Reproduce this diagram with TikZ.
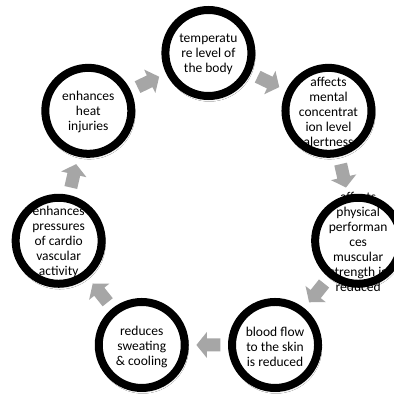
\documentclass[tikz,border=0pt]{standalone}
\usepackage{fontspec}
\setmainfont{Carlito}
\usetikzlibrary{calc,shadows.blur}
\definecolor{arrowgray}{RGB}{166,166,166}
\tikzset{
  disc/.style={circle, minimum size=86pt, inner sep=0pt, fill=white,
    blur shadow={shadow xshift=1pt, shadow yshift=-2.5pt, shadow blur radius=3pt, shadow opacity=30}},
  ringline/.style={circle, minimum size=86pt, inner sep=0pt, draw=black, line width=8pt},
  txt/.style={align=center, font=\fontsize{13.5}{15}\selectfont, text=black, inner sep=0pt, yshift=-1.5pt},
  blockarrow/.pic={\fill[arrowgray] (-12,-6.5) -- (1.5,-6.5) -- (1.5,-13) -- (12,0) -- (1.5,13) -- (1.5,6.5) -- (-12,6.5) -- cycle;}
}
\begin{document}
\begin{tikzpicture}[x=1pt,y=1pt]
\useasboundingbox (-208.4,-187.4) rectangle (185.6,206.6);
\fill[white] (-208.4,-187.4) rectangle (185.6,206.6);
% discs
\node[disc] (c1) at (90:153.6) {};
\node[disc] (c2) at (38.571:153.6) {};
\node[disc] (c3) at (-12.857:153.6) {};
\node[disc] (c4) at (-64.286:153.6) {};
\node[disc] (c5) at (-115.714:153.6) {};
\node[disc] (c6) at (-167.143:153.6) {};
\node[disc] (c7) at (141.429:153.6) {};
% arrows
\pic[rotate=-25.714] at ($(c1)!0.5!(c2)$) {blockarrow};
\pic[rotate=-77.143] at ($(c2)!0.5!(c3)$) {blockarrow};
\pic[rotate=-128.571] at ($(c3)!0.5!(c4)$) {blockarrow};
\pic[rotate=180] at ($(c4)!0.5!(c5)$) {blockarrow};
\pic[rotate=128.571] at ($(c5)!0.5!(c6)$) {blockarrow};
\pic[rotate=77.143] at ($(c6)!0.5!(c7)$) {blockarrow};
\pic[rotate=25.714] at ($(c7)!0.5!(c1)$) {blockarrow};
% texts
\node[txt] (t1) at (c1) {temperatu\\re level of\\the body};
\node[txt] (t2) at (c2) {affects\\mental\\concentrat\\ion level\\alertness};
\node[txt] (t3) at (c3) {affects\\physical\\performan\\ces\\muscular\\strength is\\reduced};
\node[txt] (t4) at (c4) {blood flow\\to the skin\\is reduced};
\node[txt] (t5) at (c5) {reduces\\sweating\\\& cooling};
\node[txt] (t6) at (c6) {enhances\\pressures\\of cardio\\vascular\\activity};
\node[txt] (t7) at (c7) {enhances\\heat\\injuries};
% rings
\node[ringline] (r1) at (c1) {};
\node[ringline] (r2) at (c2) {};
\node[ringline] (r3) at (c3) {};
\node[ringline] (r4) at (c4) {};
\node[ringline] (r5) at (c5) {};
\node[ringline] (r6) at (c6) {};
\node[ringline] (r7) at (c7) {};
\end{tikzpicture}
\end{document}
